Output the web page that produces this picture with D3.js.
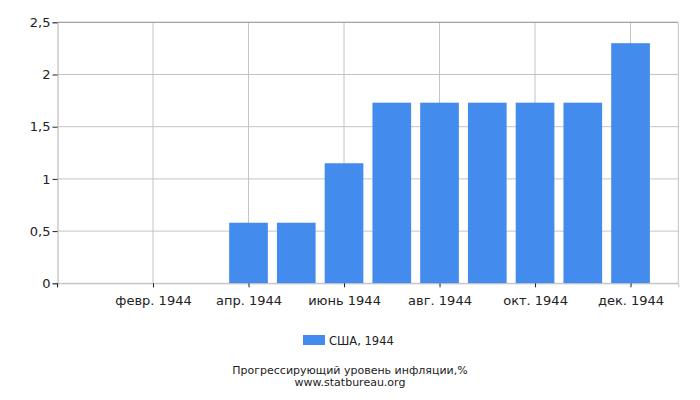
<!DOCTYPE html>
<html>
<head>
<meta charset="utf-8">
<script src="https://cdn.jsdelivr.net/npm/d3@7"></script>
<style>
  body { margin: 0; background: #fff; }
  text { font-family: "DejaVu Sans", sans-serif; fill: #222; }
</style>
</head>
<body>
<div id="chart"></div>
<script>
// data
const months = ["янв. 1944", "февр. 1944", "март 1944", "апр. 1944", "май 1944", "июнь 1944",
                "июль 1944", "авг. 1944", "сент. 1944", "окт. 1944", "нояб. 1944", "дек. 1944"];
const values = [0, 0, 0, 0.58, 0.58, 1.15, 1.73, 1.73, 1.73, 1.73, 1.73, 2.30];
const yTicks = [0, 0.5, 1, 1.5, 2, 2.5];
const seriesName = "США, 1944";
const caption = "Прогрессирующий уровень инфляции,%";
const source = "www.statbureau.org";

const W = 700, H = 400;
const mLeft = 57.5, mRight = 678.3, mTop = 22.3, mBottom = 283.3;

const svg = d3.select("#chart").append("svg")
  .attr("width", W)
  .attr("height", H);

const x = d3.scalePoint()
  .domain(months)
  .range([mLeft, mRight])
  .padding(1);

const y = d3.scaleLinear()
  .domain([0, 2.5])
  .range([mBottom, mTop]);

const fmt = d => String(d).replace(".", ",");

// grid
svg.append("g")
  .selectAll("line")
  .data(yTicks)
  .enter().append("line")
    .attr("x1", mLeft).attr("x2", mRight)
    .attr("y1", d => y(d)).attr("y2", d => y(d))
    .style("stroke", "#c4c4c4");

const labelled = months.filter((d, i) => i % 2 == 1);
svg.append("g")
  .selectAll("line")
  .data(labelled)
  .enter().append("line")
    .attr("x1", d => x(d)).attr("x2", d => x(d))
    .attr("y1", mTop).attr("y2", mBottom)
    .style("stroke", "#c4c4c4");

// borders
svg.append("line").attr("x1", mLeft).attr("x2", mRight).attr("y1", mTop).attr("y2", mTop)
  .style("stroke", "#9a9a9a");
svg.append("line").attr("x1", mRight).attr("x2", mRight).attr("y1", mTop).attr("y2", mBottom)
  .style("stroke", "#c4c4c4");

// bars
const bw = x.step() * 0.81;
svg.append("g")
  .selectAll("rect")
  .data(values)
  .enter().append("rect")
    .attr("x", (d, i) => x(months[i]) - bw / 2)
    .attr("width", bw)
    .attr("y", d => y(d))
    .attr("height", d => mBottom - y(d))
    .style("fill", "#438ced");

// y axis
const yAxis = d3.axisLeft(y).tickValues(yTicks).tickFormat(fmt).tickSize(5).tickPadding(2);
const gy = svg.append("g")
  .attr("transform", "translate(" + mLeft + ",0)")
  .call(yAxis);
gy.select(".domain").style("stroke", "#b0b0b0");
gy.selectAll(".tick line").style("stroke", "#222");
gy.selectAll("text").style("font-size", "13px").style("fill", "#222");

// x axis
const xAxis = d3.axisBottom(x).tickValues(labelled).tickSize(4).tickPadding(8);
const gx = svg.append("g")
  .attr("transform", "translate(0," + mBottom + ")")
  .call(xAxis);
gx.select(".domain").style("stroke", "#c4c4c4");
gx.selectAll(".tick line").style("stroke", "#222");
gx.selectAll("text").style("font-size", "13px").style("fill", "#222");
gx.append("line").attr("x1", mLeft).attr("x2", mLeft).attr("y1", 0).attr("y2", 4)
  .style("stroke", "#222");

// legend
const lg = svg.append("g").attr("transform", "translate(303,335)");
lg.append("rect").attr("width", 22).attr("height", 10).style("fill", "#438ced");
lg.append("text").attr("x", 26).attr("y", 10).style("font-size", "11.5px").text(seriesName);

// captions
svg.append("text")
  .attr("x", 350).attr("y", 374)
  .attr("text-anchor", "middle")
  .style("font-size", "11px")
  .text(caption);
svg.append("text")
  .attr("x", 350).attr("y", 385.5)
  .attr("text-anchor", "middle")
  .style("font-size", "11px")
  .text(source);
</script>
</body>
</html>
